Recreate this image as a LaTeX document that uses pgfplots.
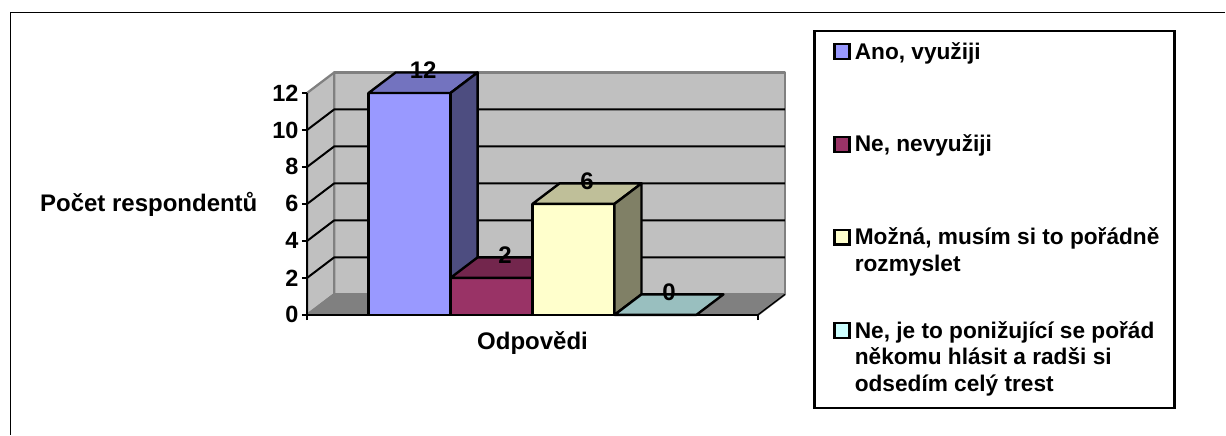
\documentclass[border=0pt]{standalone}
\usepackage{fontspec}
\setmainfont{Liberation Sans}
\usepackage{pgfplots}
\pgfplotsset{compat=1.18}
\definecolor{wall}{HTML}{C0C0C0}
\definecolor{floorc}{HTML}{808080}
\definecolor{aFront}{HTML}{9999FF}
\definecolor{aTop}{HTML}{7373BF}
\definecolor{aSide}{HTML}{4D4D80}
\definecolor{bFront}{HTML}{993366}
\definecolor{bTop}{HTML}{73264D}
\definecolor{bSide}{HTML}{4D1A33}
\definecolor{cFront}{HTML}{FFFFCC}
\definecolor{cTop}{HTML}{BFBF99}
\definecolor{cSide}{HTML}{808066}
\definecolor{dFront}{HTML}{CCFFFF}
\definecolor{dTop}{HTML}{99BFBF}
\newcommand{\lab}{\bfseries\fontsize{18}{20}\selectfont}
\newcommand{\tcklab}{\bfseries\fontsize{17.6}{20}\selectfont}
\newcommand{\leg}{\bfseries\fontsize{17}{20}\selectfont}
\begin{document}
\begin{tikzpicture}
\begin{scope}[x=0.75pt,y=-0.75pt]
  \path[use as bounding box] (0,0) rectangle (1226,435);
\end{scope}
\begin{axis}[
  at={(230.475pt,-236.25pt)}, anchor=south west,
  scale only axis, width=338.25pt, height=166.5pt,
  xmin=0, xmax=5.5, ymin=0, ymax=12,
  clip=false, axis on top,
  axis lines=left, axis line style={-, line width=1.7pt, black},
  xtick={0,5.5}, xticklabels={},
  ytick={0,2,...,12},
  tick style={black, line width=1.7pt},
  tick align=outside, major tick length=4pt,
  /pgf/number format/assume math mode=true,
  tick label style={font=\tcklab},
  yticklabel style={xshift=1pt},
  xlabel={Odpovědi}, ylabel={Počet respondentů},
  every axis x label/.style={at={(axis cs:2.75,-1.85)}, anchor=base, font=\lab},
  every axis y label/.style={at={(axis cs:-3.315,5.6)}, anchor=base west, font=\lab},
  every axis plot/.append style={line join=round},
]
% stena a podlaha
\addplot[fill=wall, draw=floorc, line width=1.7pt] coordinates {(0.33,1.108)(5.83,1.108)(5.83,13.108)(0.33,13.108)} --cycle;
\addplot[fill=wall, draw=floorc, line width=1.7pt] coordinates {(0,0)(0.33,1.108)(0.33,13.108)(0,12)} --cycle;
\addplot[fill=floorc, draw=floorc, line width=1.7pt] coordinates {(0,0)(5.5,0)(5.83,1.108)(0.33,1.108)} --cycle;
\addplot[black, line width=1pt] coordinates {(5.5,0)(5.83,1.108)};
% mrizka
\addplot[black, line width=1.5pt] coordinates {(0,2)(0.33,3.108)(5.83,3.108)};
\addplot[black, line width=1.5pt] coordinates {(0,4)(0.33,5.108)(5.83,5.108)};
\addplot[black, line width=1.5pt] coordinates {(0,6)(0.33,7.108)(5.83,7.108)};
\addplot[black, line width=1.5pt] coordinates {(0,8)(0.33,9.108)(5.83,9.108)};
\addplot[black, line width=1.5pt] coordinates {(0,10)(0.33,11.108)(5.83,11.108)};
% Ano, vyuziji = 12
\addplot[fill=aFront, draw=black, line width=1.8pt] coordinates {(0.75,0)(1.75,0)(1.75,12)(0.75,12)} --cycle;
\addplot[fill=aTop, draw=black, line width=1.8pt] coordinates {(0.75,12)(1.75,12)(2.08,13.108)(1.08,13.108)} --cycle;
\addplot[fill=aSide, draw=black, line width=1.8pt] coordinates {(1.75,0)(2.08,1.108)(2.08,13.108)(1.75,12)} --cycle;
% Ne, nevyuziji = 2
\addplot[fill=bFront, draw=black, line width=1.8pt] coordinates {(1.75,0)(2.75,0)(2.75,2)(1.75,2)} --cycle;
\addplot[fill=bTop, draw=black, line width=1.8pt] coordinates {(1.75,2)(2.75,2)(3.08,3.108)(2.08,3.108)} --cycle;
\addplot[fill=bSide, draw=black, line width=1.8pt] coordinates {(2.75,0)(3.08,1.108)(3.08,3.108)(2.75,2)} --cycle;
% Mozna = 6
\addplot[fill=cFront, draw=black, line width=1.8pt] coordinates {(2.75,0)(3.75,0)(3.75,6)(2.75,6)} --cycle;
\addplot[fill=cTop, draw=black, line width=1.8pt] coordinates {(2.75,6)(3.75,6)(4.08,7.108)(3.08,7.108)} --cycle;
\addplot[fill=cSide, draw=black, line width=1.8pt] coordinates {(3.75,0)(4.08,1.108)(4.08,7.108)(3.75,6)} --cycle;
% Ne, je to ponizujici = 0
\addplot[fill=dTop, draw=black, line width=1.8pt] coordinates {(3.75,0)(4.75,0)(5.08,1.108)(4.08,1.108)} --cycle;
% popisky hodnot
\node[anchor=base, font=\lab, inner sep=0pt] at (axis cs:1.415,12.78) {12};
\node[anchor=base, font=\lab, inner sep=0pt] at (axis cs:2.415,2.78) {2};
\node[anchor=base, font=\lab, inner sep=0pt] at (axis cs:3.415,6.78) {6};
\node[anchor=base, font=\lab, inner sep=0pt] at (axis cs:4.415,0.78) {0};
\end{axis}
% ramecek a legenda
\begin{scope}[x=0.75pt,y=-0.75pt]
  \draw[black, line width=1pt] (10.3,435) -- (10.3,12.3) -- (1226,12.3);
  \draw[black, line width=1.8pt] (815,31.3) rectangle (1175,408);
  \draw[black, line width=1.7pt, fill=aFront] (835,44) rectangle (850,59);
  \draw[black, line width=1.7pt, fill=bFront] (835,137) rectangle (850,152);
  \draw[black, line width=1.7pt, fill=cFront] (835,230) rectangle (850,244.5);
  \draw[black, line width=1.7pt, fill=dFront] (835,323.5) rectangle (850,338);
  \node[anchor=base west, inner sep=0pt, font=\leg] at (855,60) {Ano, využiji};
  \node[anchor=base west, inner sep=0pt, font=\leg] at (855,152) {Ne, nevyužiji};
  \node[anchor=base west, inner sep=0pt, font=\leg] at (855,245) {Možná, musím si to pořádně};
  \node[anchor=base west, inner sep=0pt, font=\leg] at (855,271.7) {rozmyslet};
  \node[anchor=base west, inner sep=0pt, font=\leg] at (855,338.3) {Ne, je to ponižující se pořád};
  \node[anchor=base west, inner sep=0pt, font=\leg] at (855,365) {někomu hlásit a radši si};
  \node[anchor=base west, inner sep=0pt, font=\leg] at (855,391.7) {odsedím celý trest};
\end{scope}
\end{tikzpicture}
\end{document}
